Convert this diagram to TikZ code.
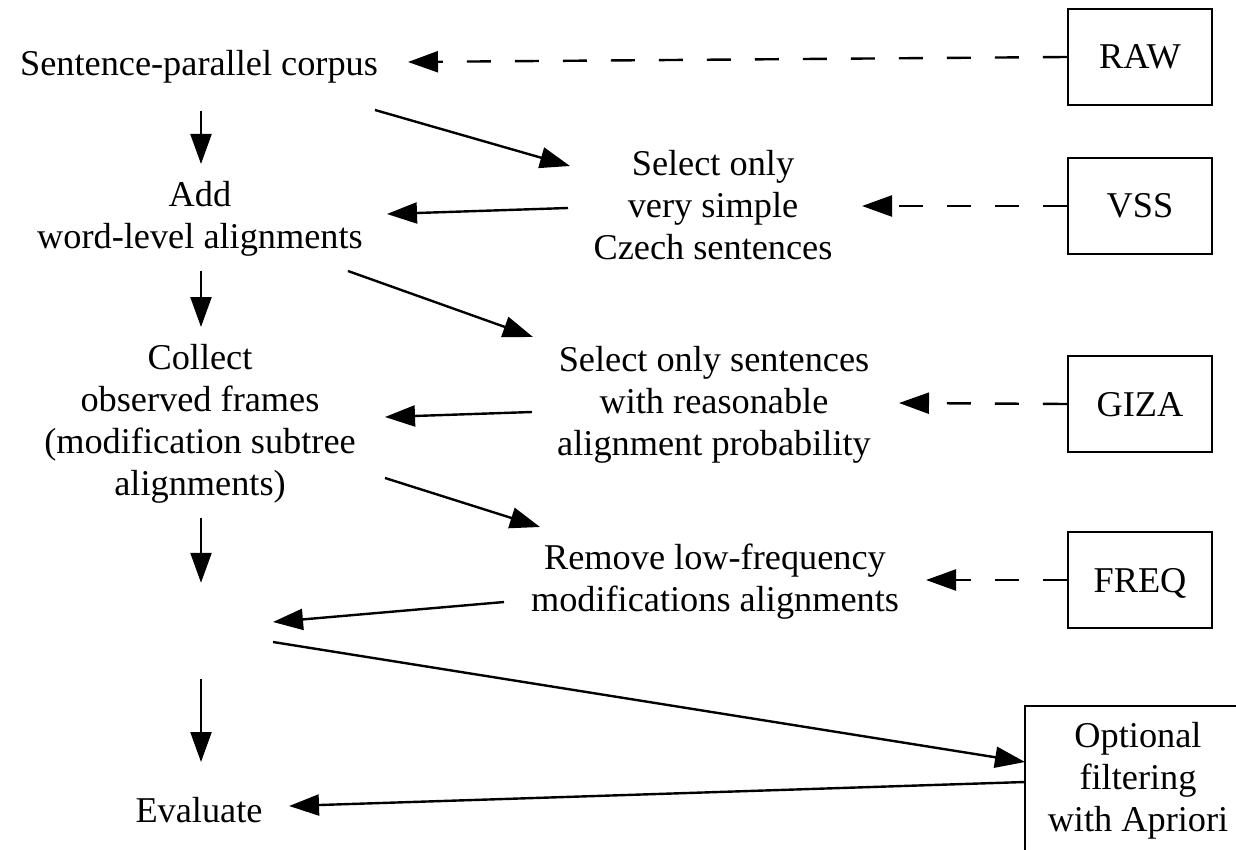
\documentclass[tikz,border=0pt]{standalone}
\usepackage{fontspec}
\setmainfont{Liberation Serif}
\usetikzlibrary{arrows.meta,calc}
\begin{document}
\begin{tikzpicture}[x=1pt,y=-1pt,
  every node/.style={font=\fontsize{36.3pt}{42pt}\selectfont},
  txt/.style={align=center,inner sep=0pt,
    execute at begin node=\strut, execute at end node=\strut},
  srcbox/.style={draw,line width=2.2pt,minimum width=144pt,minimum height=96pt,
    inner sep=0pt,text height=24pt,text depth=0pt},
  arr/.style={line width=2.4pt,-{Triangle[length=30pt,width=21pt]}},
  darr/.style={arr,dash pattern=on 24pt off 24pt}
]
\useasboundingbox (0,0) rectangle (1236,850);
\clip (0,0) rectangle (1236,850);

% left column
\node[txt] (corpus) at (199,67.6) {Sentence-parallel corpus};
\node[txt] (add) at (200,221.6) {Add\\word-level alignments};
\node[txt] (collect) at (200,426.6) {Collect\\observed frames\\(modification subtree\\alignments)};
\node[inner sep=0pt,minimum width=146pt,minimum height=96pt] (empty) at (201,631) {};
\node[txt] (evaluate) at (199,813.6) {Evaluate};

% middle column
\node[txt] (vss) at (713,211.6) {Select only\\very simple\\Czech sentences};
\node[txt] (giza) at (714,407.6) {Select only sentences\\with reasonable\\alignment probability};
\node[txt] (freq) at (715,583.6) {Remove low-frequency\\modifications alignments};

% right column boxes
\node[srcbox] (raw) at (1140,57) {RAW};
\node[srcbox] (vssb) at (1140,206) {VSS};
\node[srcbox] (gizab) at (1140,404) {GIZA};
\node[srcbox] (freqb) at (1140,580) {FREQ};
\node[draw,line width=2.2pt,txt,minimum width=226pt,minimum height=154pt] (opt) at (1138,783)
  {Optional\\filtering\\with Apriori};

% vertical flow
\draw[arr] ($(corpus)+(2,43.4)$) -- ($(add)+(1,-57.6)$);
\draw[arr] ($(add)+(1,49.4)$) -- ($(collect)+(1,-99.6)$);
\draw[arr] ($(collect)+(1,91.4)$) -- (empty.north);
\draw[arr] (empty.south) -- ($(evaluate)+(2,-51.6)$);

% side steps
\draw[arr] ($(corpus)+(176,42.4)$) -- ($(vss)+(-143,-45.6)$);
\draw[arr] ($(vss)+(-145,-3.6)$) -- ($(add)+(187,-7.6)$);
\draw[arr] ($(add)+(148,49.4)$) -- ($(giza)+(-181,-70.6)$);
\draw[arr] ($(giza)+(-182,4.4)$) -- ($(collect)+(185,-9.6)$);
\draw[arr] ($(collect)+(185,51.4)$) -- ($(freq)+(-175,-56.6)$);
\draw[arr] ($(freq)+(-211,18.4)$) -- ($(empty)+(72,-9)$);
\draw[arr] ($(empty)+(72,11)$) -- ($(opt)+(-113,-21)$);
\draw[arr] ($(opt)+(-113,-1)$) -- ($(evaluate)+(90,-7.6)$);

% dashed inputs
\draw[darr] (raw.west) -- ($(corpus)+(209,-5.6)$);
\draw[darr] (vssb.west) -- ($(vss)+(149,-5.6)$);
\draw[darr] (gizab.west) -- ($(giza)+(185,-4.6)$);
\draw[darr] (freqb.west) -- ($(freq)+(211,-3.6)$);
\end{tikzpicture}
\end{document}
